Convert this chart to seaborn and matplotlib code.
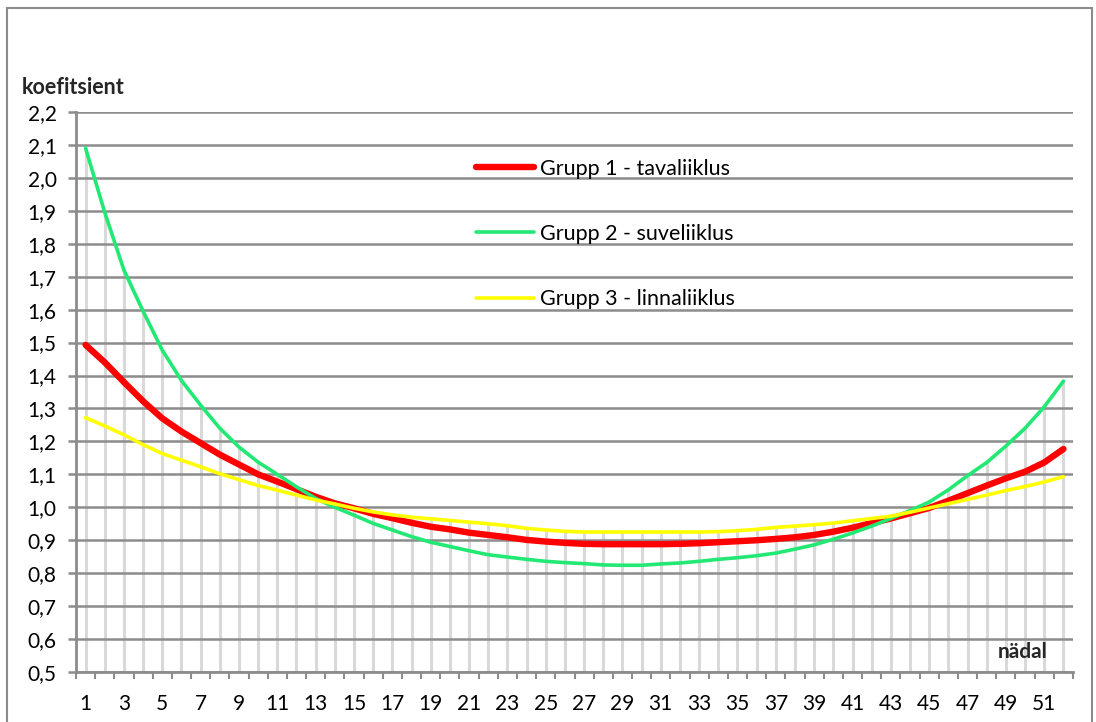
import matplotlib
matplotlib.use("Agg")
import matplotlib.pyplot as plt
from matplotlib.ticker import FuncFormatter, MultipleLocator, FixedLocator
from matplotlib.patches import Rectangle
import seaborn as sns
import pandas as pd

weeks = list(range(1, 53))
grupp1 = [1.493, 1.44, 1.38, 1.322, 1.27, 1.23, 1.195, 1.16, 1.13, 1.10,
          1.078, 1.055, 1.032, 1.012, 0.997, 0.98, 0.967, 0.953, 0.941, 0.933,
          0.923, 0.916, 0.909, 0.901, 0.896, 0.892, 0.889, 0.888, 0.888, 0.888,
          0.888, 0.889, 0.891, 0.894, 0.897, 0.90, 0.904, 0.909, 0.916, 0.926,
          0.938, 0.952, 0.966, 0.982, 0.998, 1.02, 1.043, 1.066, 1.088, 1.108,
          1.136, 1.177]
grupp2 = [2.09, 1.895, 1.72, 1.595, 1.477, 1.385, 1.31, 1.24, 1.183, 1.137,
          1.10, 1.062, 1.027, 1.0, 0.976, 0.951, 0.931, 0.911, 0.894, 0.881,
          0.868, 0.856, 0.849, 0.842, 0.836, 0.832, 0.829, 0.825, 0.824, 0.824,
          0.828, 0.831, 0.836, 0.842, 0.847, 0.853, 0.861, 0.873, 0.886, 0.903,
          0.922, 0.943, 0.966, 0.99, 1.016, 1.053, 1.096, 1.136, 1.186, 1.24,
          1.305, 1.383]
grupp3 = [1.272, 1.247, 1.22, 1.19, 1.163, 1.143, 1.123, 1.102, 1.084, 1.066,
          1.052, 1.037, 1.022, 1.01, 0.997, 0.986, 0.977, 0.97, 0.965, 0.96,
          0.955, 0.95, 0.944, 0.936, 0.931, 0.927, 0.925, 0.925, 0.925, 0.925,
          0.925, 0.925, 0.925, 0.926, 0.929, 0.933, 0.939, 0.943, 0.947, 0.952,
          0.959, 0.966, 0.973, 0.985, 0.998, 1.011, 1.024, 1.037, 1.051, 1.063,
          1.077, 1.093]
series_names = ["Grupp 1 - tavaliiklus", "Grupp 2 - suveliiklus", "Grupp 3 - linnaliiklus"]
colors = ["#FF0000", "#22E874", "#FFFF00"]
widths = [4.6, 2.6, 2.6]
x_tick_labels = [str(w) for w in weeks if w % 2 == 1]

df = pd.DataFrame({"nädal": weeks * 3,
                   "koefitsient": grupp1 + grupp2 + grupp3,
                   "grupp": sum([[n] * len(weeks) for n in series_names], [])})

sns.set_theme(style="white")
plt.rcParams["font.family"] = ["Lato", "DejaVu Sans"]

fig = plt.figure(figsize=(10.96, 7.22), dpi=100)
ax = fig.add_axes([76 / 1096, 1 - 672 / 722, (1073 - 76) / 1096, (672 - 112) / 722])

# outer chart frame
fig.patches.append(Rectangle((7 / 1096, -0.05), (1092 - 7) / 1096, 1.05 - 8 / 722,
                             transform=fig.transFigure, fill=False,
                             edgecolor="#8c8c8c", linewidth=1.5, zorder=0))

# drop lines to axis from highest series value
tops = [max(a, b, c) for a, b, c in zip(grupp1, grupp2, grupp3)]
ax.vlines(weeks, 0.5, tops, colors="#D9D9D9", linewidth=2.2, zorder=0.4)

for name, col, lw in zip(series_names, colors, widths):
    sub = df[df["grupp"] == name]
    sns.lineplot(data=sub, x="nädal", y="koefitsient", ax=ax, color=col,
                 linewidth=lw, label=name, zorder=3, solid_capstyle="round",
                 solid_joinstyle="round")

ax.set_xlim(0.5, 52.5)
ax.set_ylim(0.5, 2.2)
ax.yaxis.set_major_locator(MultipleLocator(0.1))
ax.yaxis.set_major_formatter(FuncFormatter(lambda v, p: f"{v:.1f}".replace(".", ",")))
ax.set_axisbelow(True)
ax.grid(axis="y", color="#8C8C8C", linewidth=1.8)
ax.grid(axis="x", visible=False)

ax.xaxis.set_major_locator(FixedLocator([w for w in weeks if w % 2 == 1]))
ax.set_xticklabels(x_tick_labels)
ax.xaxis.set_minor_locator(FixedLocator([w - 0.5 for w in weeks] + [52.5]))
ax.tick_params(axis="x", which="major", length=0, pad=16, labelsize=15, colors="black")
ax.tick_params(axis="x", which="minor", length=5, width=1.5, color="#8C8C8C", direction="out", bottom=True)
ax.tick_params(axis="y", which="major", length=6, width=1.8, color="#8C8C8C", direction="out",
               left=True, pad=8, labelsize=15, labelcolor="black")

for s in ["top", "right"]:
    ax.spines[s].set_visible(False)
ax.spines["left"].set_color("#8C8C8C")
ax.spines["left"].set_linewidth(2)
ax.spines["bottom"].set_color("#8C8C8C")
ax.spines["bottom"].set_linewidth(2)

ax.set_xlabel("")
ax.set_ylabel("")
fig.text(22 / 1096, 1 - 88 / 722, "koefitsient", fontsize=15.5, fontweight="bold", va="center", ha="left")
ax.text(51.2, 0.53, "nädal", fontsize=15, fontweight="bold", va="bottom", ha="right")

leg = ax.legend(loc="upper left", bbox_to_anchor=(465 / 1096, 1 - 148 / 722),
                bbox_transform=fig.transFigure, frameon=False, fontsize=15.5,
                handlelength=2.7, handletextpad=0.3, labelspacing=2.1, borderpad=0)
for t in leg.get_texts():
    t.set_color("black")

fig.savefig("out.png", dpi=100, facecolor="white")
